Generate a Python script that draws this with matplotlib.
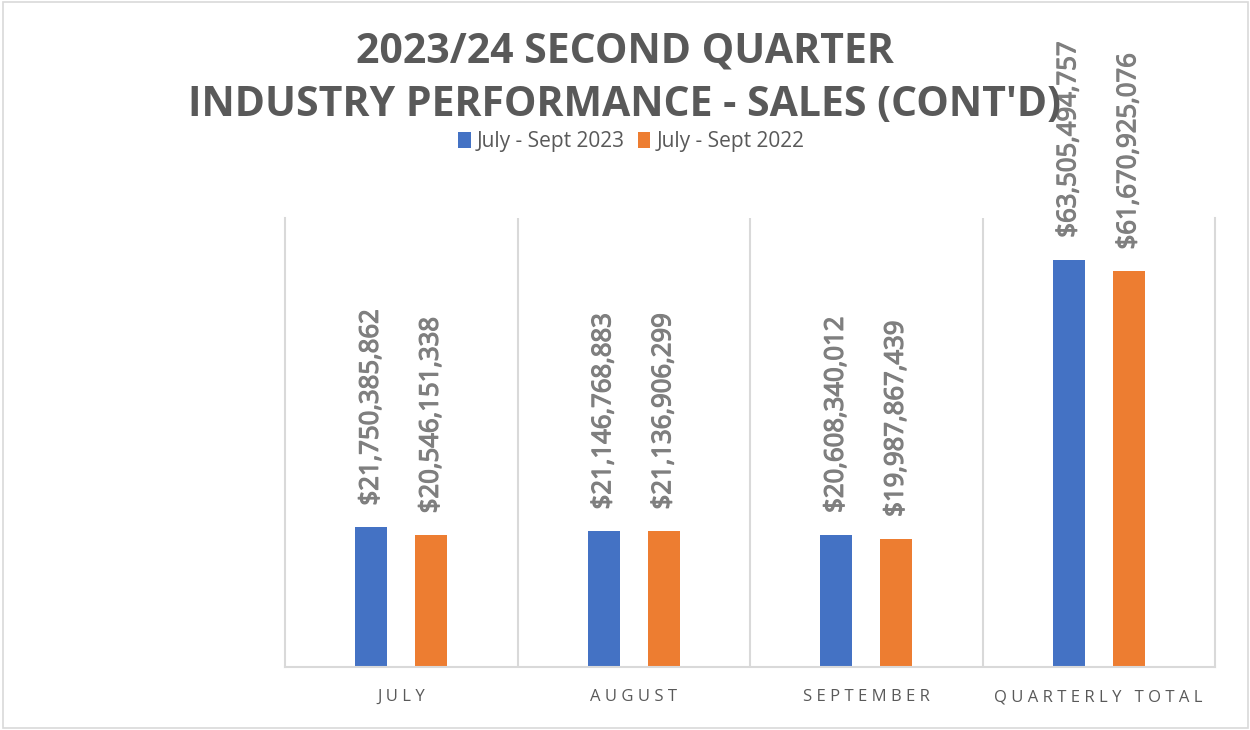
import matplotlib.pyplot as plt
import matplotlib.patheffects as pe
import numpy as np
from matplotlib.patches import Rectangle

categories = ["JULY", "AUGUST", "SEPTEMBER", "QUARTERLY TOTAL"]
sales_2023 = [21750385862, 21146768883, 20608340012, 63505494757]
sales_2022 = [20546151338, 21136906299, 19987867439, 61670925076]
series_names = ["July - Sept 2023", "July - Sept 2022"]

blue = "#4472C4"
orange = "#ED7D31"
dark = "#595959"
grey = "#7F7F7F"
line = "#D9D9D9"

plt.rcParams['font.family'] = ['Open Sans', 'DejaVu Sans']

fig = plt.figure(figsize=(12.5, 7.3), dpi=100)
ax = fig.add_axes([0.228, 0.0863, 0.744, 0.6151])

x = np.arange(len(categories))
off = 0.129
w = 0.138
b1 = ax.bar(x - off, sales_2023, w, color=blue, label=series_names[0])
b2 = ax.bar(x + off, sales_2022, w, color=orange, label=series_names[1])

# labels a bit heavier than regular weight, like the original
thick = [pe.withStroke(linewidth=0.9, foreground=grey)]
for bars, vals in [(b1, sales_2023), (b2, sales_2022)]:
    for r, v in zip(bars, vals):
        ax.annotate("${:,}".format(v), (r.get_x() + r.get_width() / 2, v),
                    xytext=(0, 22), textcoords='offset pixels',
                    rotation=90, ha='center', va='bottom',
                    fontsize=18.5, color=grey, path_effects=thick)

ax.set_xlim(-0.5, 3.5)
ax.set_ylim(0, 70e9)
ax.set_yticks([])
ax.set_xticks(x)
ax.set_xticklabels(["\u2009\u200a".join(c) for c in categories], fontsize=12, color=dark)
ax.tick_params(axis='x', length=0, pad=16)
for s in ['left', 'right', 'bottom']:
    ax.spines[s].set_color(line)
    ax.spines[s].set_linewidth(1.5)
ax.spines['top'].set_visible(False)
for xv in [0.5, 1.5, 2.5]:
    ax.axvline(xv, color=line, lw=1.5)

fig.text(0.5, 0.929, "2023/24 SECOND QUARTER", ha='center', va='center',
         fontsize=29.5, fontweight='bold', color=dark)
fig.text(0.5, 0.856, "INDUSTRY PERFORMANCE - SALES (CONT'D)", ha='center', va='center',
         fontsize=29.5, fontweight='bold', color=dark)

fig.legend(loc='center', bbox_to_anchor=(0.505, 0.806), ncol=2, frameon=False,
           fontsize=15, handlelength=0.6, handleheight=0.8, handletextpad=0.3,
           columnspacing=0.6, labelcolor=dark)

fig.patches.append(Rectangle((0.002, 0.003), 0.996, 0.994, transform=fig.transFigure,
                             fill=False, edgecolor=line, lw=1.2))

fig.savefig("out.png", dpi=100)
